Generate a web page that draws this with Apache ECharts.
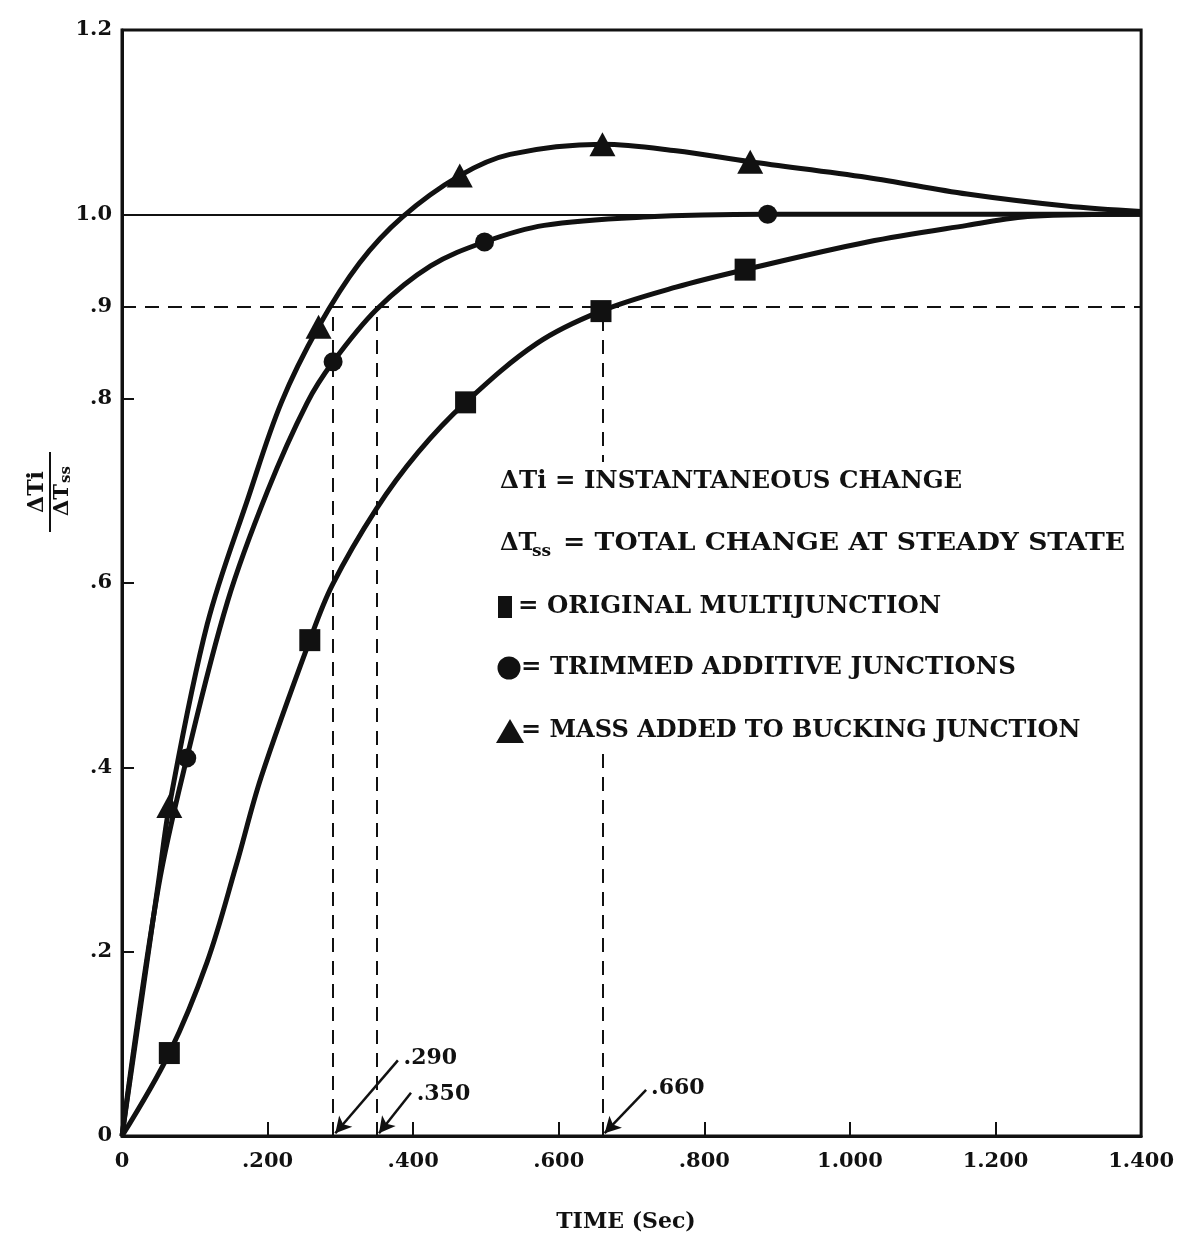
<!DOCTYPE html>
<html>
<head>
<meta charset="utf-8">
<script src="https://cdn.jsdelivr.net/npm/echarts@6/dist/echarts.min.js"></script>
<style>
html,body{margin:0;padding:0;background:#fff;}
#chart{width:1177px;height:1234px;}
</style>
</head>
<body>
<div id="chart"></div>
<script>
// ---- data ----
var xTicks = [0, 0.2, 0.4, 0.6, 0.8, 1.0, 1.2, 1.4];
var yTicks = [0, 0.2, 0.4, 0.6, 0.8, 1.0, 1.2];

// curve traces (x = time in sec, y = dTi/dTss)
var originalCurve = [[0,0],[0.065,0.090],[0.117,0.189],[0.157,0.294],[0.191,0.389],[0.258,0.538],[0.289,0.598],[0.349,0.68],[0.407,0.742],[0.472,0.796],[0.570,0.860],[0.658,0.895],[0.761,0.921],[0.856,0.94],[1.024,0.970],[1.161,0.988],[1.25,0.998],[1.4,1.0]];
var trimmedCurve = [[0,0],[0.05,0.27],[0.089,0.41],[0.145,0.58],[0.2,0.7],[0.254,0.795],[0.29,0.84],[0.35,0.897],[0.424,0.944],[0.498,0.970],[0.58,0.988],[0.716,0.997],[0.887,1.0],[1.1,1.0],[1.4,1.0]];
var massCurve = [[0,0],[0.05,0.275],[0.065,0.358],[0.117,0.555],[0.174,0.694],[0.219,0.796],[0.27,0.878],[0.326,0.947],[0.385,0.997],[0.464,1.042],[0.533,1.065],[0.66,1.076],[0.761,1.069],[0.863,1.057],[1.024,1.04],[1.161,1.022],[1.297,1.009],[1.4,1.003]];

// plotted symbols
var originalMarkers = [[0.065,0.090],[0.258,0.538],[0.472,0.796],[0.658,0.895],[0.856,0.94]];
var trimmedMarkers = [[0.089,0.41],[0.29,0.84],[0.498,0.970],[0.887,1.0]];
var massMarkers = [[0.065,0.358],[0.27,0.878],[0.464,1.042],[0.66,1.076],[0.863,1.057]];

// reference lines
var steadyLevel = 1.0;
var ninetyLevel = 0.9;
var riseTimes = [0.29, 0.35, 0.66];
var riseLabels = ['.290', '.350', '.660'];
// arrow tails and label anchors for the rise-time callouts
var arrowTails = [[0.379,0.082],[0.397,0.047],[0.72,0.05]];
var labelAnchors = [[0.384,0.084],[0.402,0.045],[0.724,0.052]];

var legendLines = [
  'INSTANTANEOUS CHANGE',
  'TOTAL CHANGE AT STEADY STATE',
  'ORIGINAL MULTIJUNCTION',
  'TRIMMED ADDITIVE JUNCTIONS',
  'MASS ADDED TO BUCKING JUNCTION'
];

// ---- chart ----
var INK = '#111';
var SERIF = '"DejaVu Serif", "Liberation Serif", serif';
var chart = echarts.init(document.getElementById('chart'), null, {renderer:'canvas'});

function fmtX(v){
  if (Math.abs(v) < 1e-9) return '0';
  if (v < 0.999) return '.' + (v*1000).toFixed(0);
  return v.toFixed(3);
}
function fmtY(v){
  if (Math.abs(v) < 1e-9) return '0';
  if (v < 0.999) return '.' + Math.round(v*10);
  return v.toFixed(1);
}

var dashStyle = {color: INK, width: 2, type: [14, 9]};
var tickFont = {fontFamily:SERIF, fontWeight:'bold', fontSize:21, color:INK};

var markLineData = [];
markLineData.push([{coord:[0, steadyLevel], lineStyle:{color:INK, width:2, type:'solid'}}, {coord:[1.4, steadyLevel]}]);
markLineData.push([{coord:[0, ninetyLevel], lineStyle:dashStyle,
  label:{show:true, position:'start', distance:10, formatter:fmtY(ninetyLevel), fontFamily:SERIF, fontWeight:'bold', fontSize:21, color:INK}},
  {coord:[1.4, ninetyLevel]}]);
riseTimes.forEach(function(t){
  markLineData.push([{coord:[t, 0], lineStyle:dashStyle}, {coord:[t, ninetyLevel]}]);
});

var arrowData = riseTimes.map(function(t, i){
  return [{coord: arrowTails[i]}, {coord: [t + 0.003, 0.003]}];
});

var LF = 'bold 24px ' + SERIF;
var graphics = [
  // white block behind the key text
  {type:'rect', z:50, shape:{x:494, y:462, width:645, height:290}, style:{fill:'#fff'}},
  {type:'text', z:60, x:500, y:482, scaleX:1.018, style:{text:'\u0394Ti = ' + legendLines[0], font:LF, fill:INK, verticalAlign:'middle'}},
  {type:'text', z:60, x:500, y:544, style:{text:'\u0394T', font:LF, fill:INK, verticalAlign:'middle'}},
  {type:'text', z:60, x:532, y:552, style:{text:'ss', font:'bold 17px ' + SERIF, fill:INK, verticalAlign:'middle'}},
  {type:'text', z:60, x:563, y:544, scaleX:1.11, style:{text:'= ' + legendLines[1], font:LF, fill:INK, verticalAlign:'middle'}},
  {type:'rect', z:60, shape:{x:498, y:596, width:14, height:22}, style:{fill:INK}},
  {type:'text', z:60, x:518, y:607, scaleX:1.02, style:{text:'= ' + legendLines[2], font:LF, fill:INK, verticalAlign:'middle'}},
  {type:'circle', z:60, shape:{cx:509, cy:668, r:11.5}, style:{fill:INK}},
  {type:'text', z:60, x:521, y:668, scaleX:1.017, style:{text:'= ' + legendLines[3], font:LF, fill:INK, verticalAlign:'middle'}},
  {type:'polygon', z:60, shape:{points:[[510,719],[524,743],[496,743]]}, style:{fill:INK}},
  {type:'text', z:60, x:521, y:731, style:{text:'= ' + legendLines[4], font:LF, fill:INK, verticalAlign:'middle'}},
  // x-axis title
  {type:'text', z:60, x:626, y:1222, style:{text:'TIME (Sec)', font:'bold 22px ' + SERIF, fill:INK, align:'center', verticalAlign:'middle'}},
  // y-axis name as a fraction, rotated
  {type:'group', z:60, x:50, y:492, rotation:Math.PI/2, children:[
    {type:'text', style:{text:'\u0394Ti', font:'bold 22px ' + SERIF, fill:INK, align:'center', verticalAlign:'bottom'}, x:0, y:-2},
    {type:'line', shape:{x1:-40, y1:0, x2:40, y2:0}, style:{stroke:INK, lineWidth:2}},
    {type:'text', style:{text:'\u0394T', font:'bold 21px ' + SERIF, fill:INK, align:'right', verticalAlign:'top'}, x:8, y:2},
    {type:'text', style:{text:'ss', font:'bold 15px ' + SERIF, fill:INK, align:'left', verticalAlign:'top'}, x:9, y:9}
  ]}
];

var option = {
  backgroundColor: '#fff',
  animation: false,
  grid: {left:122, right:29, top:30, bottom:98, show:true, borderColor:INK, borderWidth:3, backgroundColor:'transparent'},
  xAxis: {
    type:'value', min:xTicks[0], max:xTicks[xTicks.length-1], interval:0.2,
    axisLine:{show:true, lineStyle:{color:INK, width:3}},
    axisTick:{show:true, inside:true, length:14, lineStyle:{color:INK, width:2}},
    axisLabel:Object.assign({formatter:fmtX, margin:15, showMaxLabel:true, showMinLabel:true}, tickFont),
    splitLine:{show:false}
  },
  yAxis: {
    type:'value', min:yTicks[0], max:yTicks[yTicks.length-1], interval:0.2,
    axisLine:{show:true, lineStyle:{color:INK, width:3}},
    axisTick:{show:true, inside:true, length:12, lineStyle:{color:INK, width:2}},
    axisLabel:Object.assign({formatter:fmtY, margin:10}, tickFont),
    splitLine:{show:false}
  },
  series: [
    {type:'line', name:'refs', data:[], silent:true, z:1,
      markLine:{silent:true, symbol:['none','none'], label:{show:false}, data:markLineData}},
    {type:'line', name:'arrows', data:[], silent:true, z:3,
      markLine:{silent:true, symbol:['none','arrow'], symbolSize:[13,16], label:{show:false}, lineStyle:{color:INK, width:2.5, type:'solid', opacity:1}, data:arrowData}},
    {type:'scatter', name:'callouts', data:labelAnchors.map(function(p,i){return {value:p, name:riseLabels[i]};}),
      symbolSize:0, z:5, itemStyle:{opacity:1},
      label:{show:true, position:'right', distance:2, formatter:function(p){return p.name;}, fontFamily:SERIF, fontWeight:'bold', fontSize:22, color:INK, opacity:1}},
    {type:'line', name:'Original multijunction', data:originalCurve, smooth:0.35, showSymbol:false, lineStyle:{color:INK, width:5}, z:4},
    {type:'line', name:'Trimmed additive junctions', data:trimmedCurve, smooth:0.35, showSymbol:false, lineStyle:{color:INK, width:5}, z:4},
    {type:'line', name:'Mass added to bucking junction', data:massCurve, smooth:0.35, showSymbol:false, lineStyle:{color:INK, width:5}, z:4},
    {type:'scatter', data:originalMarkers, symbol:'rect', symbolSize:[21,22], itemStyle:{color:INK, opacity:1}, z:6},
    {type:'scatter', data:trimmedMarkers, symbol:'circle', symbolSize:19, itemStyle:{color:INK, opacity:1}, z:6},
    {type:'scatter', data:massMarkers, symbol:'triangle', symbolSize:[26,24], itemStyle:{color:INK, opacity:1}, z:6}
  ],
  graphic: graphics
};
chart.setOption(option);
</script>
</body>
</html>
